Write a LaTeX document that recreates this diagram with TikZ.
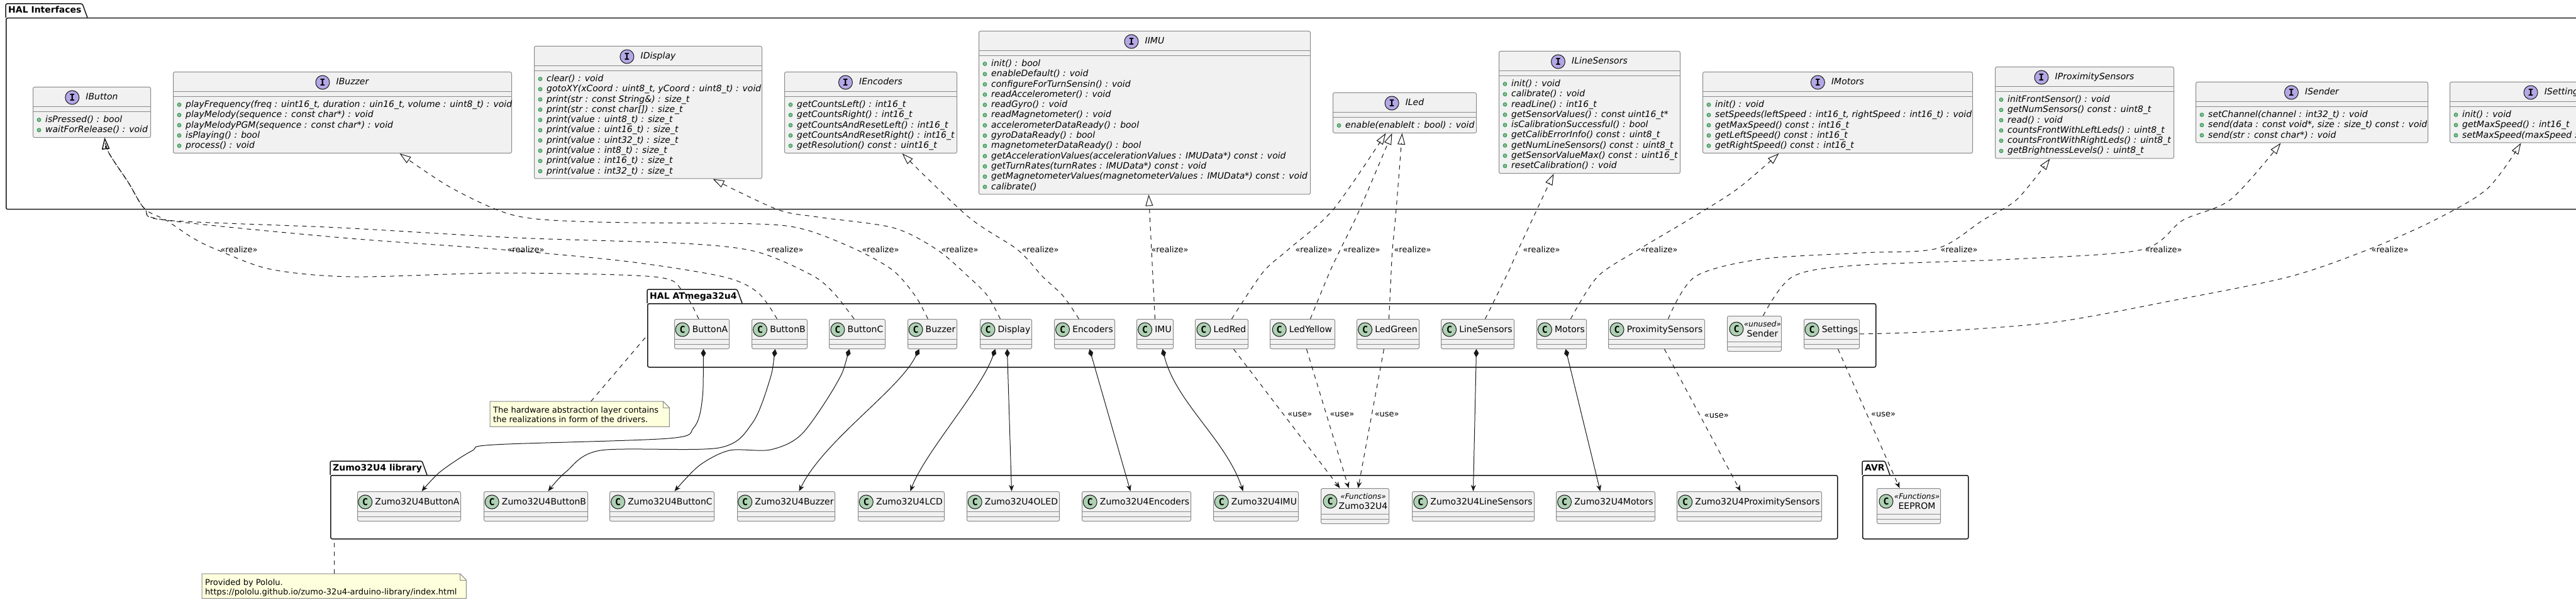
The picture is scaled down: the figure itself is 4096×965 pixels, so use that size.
\documentclass[tikz,border=0pt]{standalone}
\usepackage{fontspec}
\setmainfont{DejaVu Sans}
\newfontfamily\iconfont{DejaVu Sans Mono}
\usetikzlibrary{arrows.meta, positioning}

\definecolor{boxfill}{HTML}{F1F1F1}
\definecolor{boxline}{HTML}{8A8A8A}
\definecolor{inkline}{HTML}{181818}
\definecolor{ifpurple}{HTML}{B4A7E5}
\definecolor{clgreen}{HTML}{ADD1B2}
\definecolor{dotfill}{HTML}{84BE84}
\definecolor{dotline}{HTML}{038048}
\definecolor{notefill}{HTML}{FEFFDD}

% interface: name, left, top, width, number of methods, title, methods
\newcommand{\ifacebox}[7]{%
  \pgfmathsetmacro{\boxh}{47.5+16.3*#5}
  \node[umlbox, anchor=north west, minimum width=#4pt, minimum height=\boxh pt] (#1) at (#2,#3) {};
  \draw[sepline] ([yshift=-32pt]#1.north west) -- ([yshift=-32pt]#1.north east);
  \draw[sepline] ([yshift=-40pt]#1.north west) -- ([yshift=-40pt]#1.north east);
  \node[ifname, anchor=base] (#1-name) at ([xshift=16pt, yshift=-21pt]#1.north) {#6};
  \node[icon, fill=ifpurple, left=10pt of #1-name] (#1-icon) {I};
  \foreach \mt [count=\k] in {#7} {
    \node[mdot] at ([xshift=10pt, yshift={-52.5pt-16.3pt*(\k-1)}]#1.north west) {};
    \node[meth, anchor=base west] at ([xshift=20pt, yshift={-56.5pt-16.3pt*(\k-1)}]#1.north west) {\mt};
  }
}
% class without members: name, left, top, width, title
\newcommand{\clsbox}[5]{%
  \node[umlbox, anchor=north west, minimum width=#4pt, minimum height=47pt] (#1) at (#2,#3) {};
  \draw[sepline] ([yshift=-32pt]#1.north west) -- ([yshift=-32pt]#1.north east);
  \draw[sepline] ([yshift=-40pt]#1.north west) -- ([yshift=-40pt]#1.north east);
  \node[clname, anchor=base] (#1-name) at ([xshift=13pt, yshift=-21pt]#1.north) {#5};
  \node[icon, fill=clgreen, left=4pt of #1-name] (#1-icon) {C};
}
% class with stereotype: name, left, top, width, stereotype, title
\newcommand{\stereobox}[6]{%
  \node[umlbox, anchor=north west, minimum width=#4pt, minimum height=56pt] (#1) at (#2,#3) {};
  \draw[sepline] ([yshift=-41pt]#1.north west) -- ([yshift=-41pt]#1.north east);
  \draw[sepline] ([yshift=-49pt]#1.north west) -- ([yshift=-49pt]#1.north east);
  \node[stname, anchor=base] (#1-stereo) at ([xshift=13pt, yshift=-17pt]#1.north) {«#5»};
  \node[clname, anchor=base] (#1-name) at ([xshift=13pt, yshift=-33pt]#1.north) {#6};
  \node[icon, fill=clgreen] (#1-icon) at ([xshift=15pt, yshift=-21pt]#1.north west) {C};
}
% package: name, left, top, right, bottom, tab width, title
\newcommand{\pkgbox}[7]{%
  \pgfmathsetmacro{\pw}{#4-#2}
  \pgfmathsetmacro{\ph}{#5-#3}
  \node[pkgbody, anchor=north west, minimum width=\pw pt, minimum height=\ph pt] (#1) at (#2,#3) {};
  \draw[pkgline] (#1.north west) -- ++(0,-22) -- ++(#6-8,0) -- ([xshift=#6pt]#1.north west);
  \node[pkgtitle, anchor=base west] (#1-title) at ([xshift=4pt, yshift=7pt]#1.north west) {#7};
}
% note: name, left, top, width, height, text
\newcommand{\notebox}[6]{%
  \node[anchor=north west, minimum width=#4pt, minimum height=#5pt, inner sep=0pt] (#1) at (#2,#3) {};
  \filldraw[noteline] (#1.north west) -- ([xshift=-10pt]#1.north east) -- ([yshift=-10pt]#1.north east)
    -- (#1.south east) -- (#1.south west) -- cycle;
  \draw[noteline, fill=none] ([xshift=-10pt]#1.north east) |- ([yshift=-10pt]#1.north east);
  \node[notetext, anchor=north west] (#1-text) at ([xshift=5pt, yshift=-8pt]#1.north west) {#6};
}

\begin{document}
\begin{tikzpicture}[x=1pt, y=-1pt,
    umlbox/.style={draw=boxline, fill=boxfill, line width=1pt, rounded corners=2.5pt, inner sep=0pt},
    sepline/.style={draw=boxline, line width=1pt},
    icon/.style={circle, draw=inkline, line width=1pt, minimum size=22pt, inner sep=0pt,
      font=\iconfont\bfseries\fontsize{15}{15}\selectfont},
    ifname/.style={font=\itshape\fontsize{14}{16}\selectfont, inner sep=0pt, text height=10pt, text depth=2pt},
    clname/.style={font=\fontsize{14}{16}\selectfont, inner sep=0pt, text height=10pt, text depth=2pt},
    stname/.style={font=\itshape\fontsize{12}{14}\selectfont, inner sep=0pt},
    meth/.style={font=\itshape\fontsize{14}{16}\selectfont, inner sep=0pt},
    mdot/.style={circle, fill=dotfill, draw=dotline, line width=.6pt, minimum size=6pt, inner sep=0pt},
    pkgbody/.style={draw=inkline, line width=1.5pt, rounded corners=2.5pt, inner sep=0pt},
    pkgline/.style={draw=inkline, line width=1.5pt, rounded corners=2.5pt},
    pkgtitle/.style={font=\bfseries\fontsize{14}{16}\selectfont, inner sep=0pt},
    noteline/.style={draw=boxline, fill=notefill, line width=1pt},
    notetext/.style={font=\fontsize{13}{15}\selectfont, align=left, inner sep=0pt},
    lbl/.style={font=\fontsize{13}{15}\selectfont, inner sep=0pt},
    realize/.style={draw=inkline, line width=1pt, dash pattern=on 7pt off 7pt,
      -{Triangle[open, length=18pt, width=12pt]}},
    uses/.style={draw=inkline, line width=1pt, dash pattern=on 7pt off 7pt,
      -{Stealth[length=10pt, width=8pt, inset=3pt]}},
    comp/.style={draw=inkline, line width=1pt,
      {Diamond[length=13pt, width=8pt]}-{Stealth[length=10pt, width=8pt, inset=3pt]}},
    notelink/.style={draw=inkline, line width=1pt, dash pattern=on 7pt off 7pt}
]
\path[use as bounding box, fill=white] (0,0) rectangle (4096,965);

% packages
\pkgbox{halif}{9}{28}{4300}{332}{130}{HAL Interfaces}
\pkgbox{halatm}{1029}{482}{2982}{583}{151}{HAL ATmega32u4}
\pkgbox{zumolib}{525}{755}{2921}{856}{154}{Zumo32U4 library}
\pkgbox{avr}{2961}{755}{3129}{856}{44}{AVR}

% interfaces
\ifacebox{ibutton}{52}{138}{187}{2}{IButton}{isPressed() : bool, waitForRelease() : void}
\ifacebox{ibuzzer}{275}{114}{538}{5}{IBuzzer}{{playFrequency(freq : uint16\_t, duration : uin16\_t, volume : uint8\_t) : void},
  playMelody(sequence : const char*) : void, playMelodyPGM(sequence : const char*) : void,
  isPlaying() : bool, process() : void}
\ifacebox{idisplay}{849}{73}{362}{10}{IDisplay}{clear() : void, {gotoXY(xCoord : uint8\_t, yCoord : uint8\_t) : void},
  print(str : const String\&) : size\_t, print(str : const char[]) : size\_t, print(value : uint8\_t) : size\_t,
  print(value : uint16\_t) : size\_t, print(value : uint32\_t) : size\_t, print(value : int8\_t) : size\_t,
  print(value : int16\_t) : size\_t, print(value : int32\_t) : size\_t}
\ifacebox{iencoders}{1247}{114}{274}{5}{IEncoders}{getCountsLeft() : int16\_t, getCountsRight() : int16\_t,
  getCountsAndResetLeft() : int16\_t, getCountsAndResetRight() : int16\_t, getResolution() const : uint16\_t}
\ifacebox{iimu}{1556}{49}{527}{13}{IIMU}{init() : bool, enableDefault() : void, configureForTurnSensin() : void,
  readAccelerometer() : void, readGyro() : void, readMagnetometer() : void, accelerometerDataReady() : bool,
  gyroDataReady() : bool, magnetometerDataReady() : bool,
  getAccelerationValues(accelerationValues : IMUData*) const : void, getTurnRates(turnRates : IMUData*) const : void,
  getMagnetometerValues(magnetometerValues : IMUData*) const : void, calibrate()}
\ifacebox{iled}{2119}{147}{228}{1}{ILed}{enable(enableIt : bool) : void}
\ifacebox{ilinesensors}{2383}{81}{288}{9}{ILineSensors}{init() : void, calibrate() : void, readLine() : int16\_t,
  getSensorValues() : const uint16\_t*, isCalibrationSuccessful() : bool, getCalibErrorInfo() const : uint8\_t,
  getNumLineSensors() const : uint8\_t, getSensorValueMax() const : uint16\_t, resetCalibration() : void}
\ifacebox{imotors}{2707}{114}{429}{5}{IMotors}{init() : void, {setSpeeds(leftSpeed : int16\_t, rightSpeed : int16\_t) : void},
  getMaxSpeed() const : int16\_t, getLeftSpeed() const : int16\_t, getRightSpeed() const : int16\_t}
\ifacebox{iproximity}{3172}{106}{284}{6}{IProximitySensors}{initFrontSensor() : void, getNumSensors() const : uint8\_t,
  read() : void, countsFrontWithLeftLeds() : uint8\_t, countsFrontWithRightLeds() : uint8\_t, getBrightnessLevels() : uint8\_t}
\ifacebox{isender}{3491}{130}{369}{3}{ISender}{setChannel(channel : int32\_t) : void,
  {send(data : const void*, size : size\_t) const : void}, send(str : const char*) : void}
\ifacebox{isettings}{3895}{130}{330}{3}{ISettings}{init() : void, getMaxSpeed() : int16\_t, setMaxSpeed(maxSpeed : int16\_t) : void}

% HAL ATmega32u4 drivers
\clsbox{buttonA}{1072}{507}{87}{ButtonA}
\clsbox{buttonB}{1195}{507}{88}{ButtonB}
\clsbox{buttonC}{1318}{507}{89}{ButtonC}
\clsbox{buzzer}{1443}{507}{78}{Buzzer}
\clsbox{display}{1558}{507}{82}{Display}
\clsbox{encoders}{1676}{507}{96}{Encoders}
\clsbox{imu}{1807}{507}{58}{IMU}
\clsbox{ledRed}{1900}{507}{84}{LedRed}
\clsbox{ledYellow}{2019}{507}{103}{LedYellow}
\clsbox{ledGreen}{2157}{507}{99}{LedGreen}
\clsbox{lineSensors}{2291}{507}{116}{LineSensors}
\clsbox{motors}{2443}{507}{79}{Motors}
\clsbox{proximity}{2557}{507}{153}{ProximitySensors}
\stereobox{sender}{2746}{502}{86}{unused}{Sender}
\clsbox{settings}{2868}{507}{88}{Settings}

% Zumo32U4 library and AVR
\clsbox{zButtonA}{568}{781}{164}{Zumo32U4ButtonA}
\clsbox{zButtonB}{769}{781}{165}{Zumo32U4ButtonB}
\clsbox{zButtonC}{969}{781}{166}{Zumo32U4ButtonC}
\clsbox{zBuzzer}{1172}{781}{155}{Zumo32U4Buzzer}
\clsbox{zLCD}{1364}{781}{137}{Zumo32U4LCD}
\clsbox{zOLED}{1537}{781}{147}{Zumo32U4OLED}
\clsbox{zEncoders}{1720}{781}{173}{Zumo32U4Encoders}
\clsbox{zIMU}{1929}{781}{135}{Zumo32U4IMU}
\stereobox{zumo}{2100}{776}{108}{Functions}{Zumo32U4}
\clsbox{zLineSensors}{2245}{781}{194}{Zumo32U4LineSensors}
\clsbox{zMotors}{2474}{781}{157}{Zumo32U4Motors}
\clsbox{zProximity}{2666}{781}{230}{Zumo32U4ProximitySensors}
\stereobox{eeprom}{2984}{776}{101}{Functions}{EEPROM}

% notes
\notebox{halnote}{779}{638}{285}{40}{The hardware abstraction layer contains\\the realizations in form of the drivers.}
\notebox{pololunote}{321}{912}{420}{39}{Provided by Pololu.\\https://pololu.github.io/zumo-32u4-arduino-library/index.html}
\draw[notelink] ([xshift=18pt]halnote.north) -- (halatm.west);
\draw[notelink] (pololunote.north) -- (pololunote.north |- zumolib.south);

% realizations
\draw[realize] plot[smooth, tension=.5] coordinates {([xshift=-5pt]buttonA.north) (1085,462) (1040,440) (800,434)
  (560,440) (430,428) (345,397) (306,378) (264,350) (230,332) (204,290) (173,243) ([xshift=20.5pt]ibutton.south)};
\draw[realize] plot[smooth, tension=.5] coordinates {([xshift=-4pt]buttonB.north) (1205,465) (1150,440) (1000,416)
  (800,397) (544,378) (264,350) (230,332) (204,290) (173,243) ([xshift=20.5pt]ibutton.south)};
\draw[realize] plot[smooth, tension=.5] coordinates {([xshift=-5pt]buttonC.north) (1325,465) (1290,437) (1202,400)
  (1087,387) (820,378) (540,362) (264,350) (230,332) (204,290) (173,243) ([xshift=20.5pt]ibutton.south)};
\draw[realize] plot[smooth, tension=.5] coordinates {([xshift=-7pt]buzzer.north) (1455,470) (1420,430) (1362,397)
  (1280,365) (1202,356) (950,353) (820,343) (720,300) ([xshift=91pt]ibuzzer.south)};
\draw[realize] plot[smooth, tension=.5] coordinates {([xshift=-9pt]display.north) (1570,470) (1540,440) (1490,397)
  (1420,362) (1300,345) (1236,333) ([xshift=103pt]idisplay.south)};
\draw[realize] plot[smooth, tension=.5] coordinates {([xshift=-9pt]encoders.north) (1690,470) (1658,440) (1618,397)
  (1540,345) ([xshift=50pt]iencoders.south)};
\draw[realize] (imu.north) -- ([xshift=6.5pt]iimu.south);
\draw[realize] plot[smooth, tension=.5] coordinates {([xshift=16pt]ledRed.north) (2008,433) (2048,397) (2120,333)
  ([xshift=-30pt]iled.south)};
\draw[realize] plot[smooth, tension=.5] coordinates {([xshift=12.5pt]ledYellow.north) (2114,433) (2131,397) (2162,333)
  ([xshift=-20pt]iled.south)};
\draw[realize] plot[smooth, tension=.5] coordinates {([xshift=1.5pt]ledGreen.north) (2212,433) (2214,397) (2220,333)
  ([xshift=-4pt]iled.south)};
\draw[realize] plot[smooth, tension=.5] coordinates {([xshift=12pt]lineSensors.north) (2398,433) (2414,397)
  ([xshift=-57pt]ilinesensors.south)};
\draw[realize] plot[smooth, tension=.5] coordinates {([xshift=14.5pt]motors.north) (2540,440) (2605,397) (2689,347)
  (2763,300) ([xshift=-93.5pt]imotors.south)};
\draw[realize] plot[smooth, tension=.5] coordinates {([xshift=18.5pt]proximity.north) (2695,440) (2800,412)
  (2960,402) (3080,395) (3153,350) (3207,317) ([xshift=-55pt]iproximity.south)};
\draw[realize] plot[smooth, tension=.5] coordinates {([xshift=14pt]sender.north) (2850,440) (2950,422)
  (3200,412) (3405,397) (3471,350) (3547,317) ([xshift=-49.5pt]isender.south)};
\draw[realize] plot[smooth, tension=.5] coordinates {(settings.east) (3077,527) (3268,512) (3459,477) (3640,440)
  (3765,397) (3871,350) (3955,300) ([xshift=-52pt]isettings.south)};

\foreach \lx [count=\n] in {380, 836, 1248, 1400, 1526, 1654, 1860, 2089, 2165, 2246, 2451, 2638, 3115, 3440, 3800}
  \node[lbl] (real\n) at (\lx,397) {«realize»};

% compositions
\draw[comp] plot[smooth, tension=.5] coordinates {([xshift=2.5pt]buttonA.south) (1116,640) (1103,680) (1063,697)
  (786,707) (750,717) (700,750) ([xshift=20pt]zButtonA.north)};
\draw[comp] plot[smooth, tension=.5] coordinates {([xshift=-7pt]buttonB.south) (1223,607) (1196,673) (1143,712)
  (955,716) (900,750) ([xshift=19.5pt]zButtonB.north)};
\draw[comp] plot[smooth, tension=.5] coordinates {([xshift=-12.5pt]buttonC.south) (1330,610) (1275,690) (1225,715)
  (1160,716) (1112,740) ([xshift=20pt]zButtonC.north)};
\draw[comp] ([xshift=-21pt]buzzer.south) .. controls (1430,620) and (1310,700) .. ([xshift=20.5pt]zBuzzer.north);
\draw[comp] ([xshift=-17pt]display.south) .. controls (1560,620) and (1470,720) .. ([xshift=14.5pt]zLCD.north);
\draw[comp] ([xshift=2pt]display.south) -- ([xshift=-2.5pt]zOLED.north);
\draw[comp] ([xshift=8pt]encoders.south) -- ([xshift=-9.5pt]zEncoders.north);
\draw[comp] ([xshift=12pt]imu.south) .. controls (1870,640) and (1950,700) .. ([xshift=-20.5pt]zIMU.north);
\draw[comp] ([xshift=-2pt]lineSensors.south) -- (zLineSensors.north);
\draw[comp] ([xshift=6.5pt]motors.south) -- ([xshift=-8.5pt]zMotors.north);

% dependencies
\draw[uses] ([xshift=19pt]ledRed.south) -- node[lbl, right=6pt, pos=.47] {«use»} ([xshift=-24pt]zumo.north);
\draw[uses] ([xshift=6.5pt]ledYellow.south) -- node[lbl, right=5pt, pos=.47] {«use»} ([xshift=-10pt]zumo.north);
\draw[uses] ([xshift=-6.5pt]ledGreen.south) -- node[lbl, right=4pt, pos=.47] {«use»} ([xshift=5pt]zumo.north);
\draw[uses] ([xshift=12.5pt]proximity.south) -- node[lbl, right=6pt, pos=.47] {«use»} ([xshift=-14pt]zProximity.north);
\draw[uses] ([xshift=10pt]settings.south) -- node[lbl, right=6pt, pos=.47] {«use»} ([xshift=-14.5pt]eeprom.north);
\end{tikzpicture}
\end{document}
